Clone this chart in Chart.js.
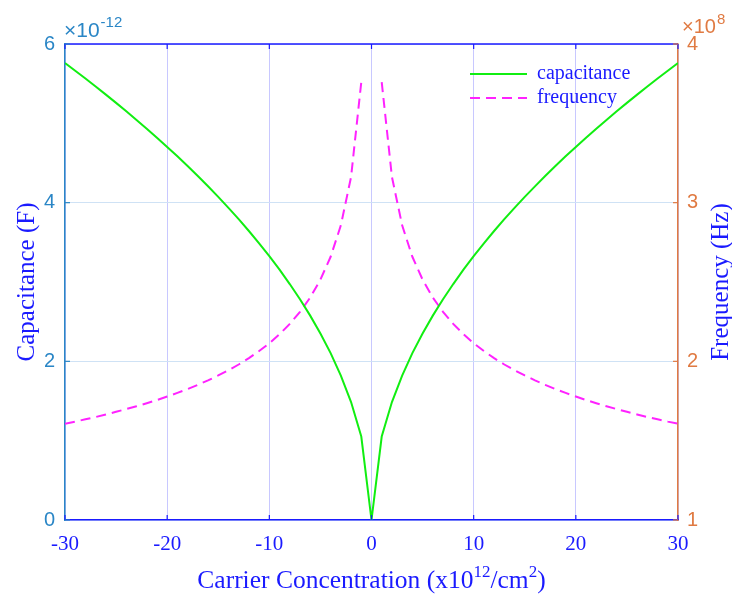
<!DOCTYPE html>
<html>
<head>
<meta charset="utf-8">
<script src="https://cdn.jsdelivr.net/npm/chart.js@4"></script>
<style>
  html, body { margin: 0; padding: 0; background: #ffffff; }
  #wrap { width: 732px; height: 595px; }
</style>
</head>
<body>
<div id="wrap"><canvas id="c" width="732" height="595"></canvas></div>
<script>
// ---- data ----
const concentration = [-30,-29,-28,-27,-26,-25,-24,-23,-22,-21,-20,-19,-18,-17,-16,-15,-14,-13,-12,-11,-10,-9,-8,-7,-6,-5,-4,-3,-2,-1,0,
  1,2,3,4,5,6,7,8,9,10,11,12,13,14,15,16,17,18,19,20,21,22,23,24,25,26,27,28,29,30];
// capacitance in units of 1e-12 F
const capacitance = [5.760,5.663,5.565,5.464,5.362,5.258,5.152,5.043,4.932,4.819,4.703,4.584,4.462,4.336,4.206,4.073,3.935,3.792,3.643,3.488,3.325,3.155,2.974,2.782,2.576,2.351,2.103,1.821,1.487,1.052,0,
  1.052,1.487,1.821,2.103,2.351,2.576,2.782,2.974,3.155,3.325,3.488,3.643,3.792,3.935,4.073,4.206,4.336,4.462,4.584,4.703,4.819,4.932,5.043,5.152,5.258,5.362,5.464,5.565,5.663,5.760];
// frequency in units of 1e8 Hz (no value at zero)
const frequency = [1.607,1.620,1.635,1.649,1.665,1.682,1.699,1.717,1.736,1.756,1.778,1.801,1.825,1.852,1.880,1.911,1.944,1.980,2.020,2.065,2.114,2.171,2.236,2.312,2.402,2.515,2.659,2.857,3.162,3.760,null,
  3.760,3.162,2.857,2.659,2.515,2.402,2.312,2.236,2.171,2.114,2.065,2.020,1.980,1.944,1.911,1.880,1.852,1.825,1.801,1.778,1.756,1.736,1.717,1.699,1.682,1.665,1.649,1.635,1.620,1.607];
const seriesNames = ['capacitance', 'frequency'];
const xTicks = [-30, -20, -10, 0, 10, 20, 30];
const leftTicks = [0, 2, 4, 6];
const rightTicks = [1, 2, 3, 4];

const BLUE = '#1a1aff';
const LEFTC = '#2a86c6';
const RIGHTC = '#e07a42';
const SERIF = '"Liberation Serif", "Times New Roman", serif';
const SANS = '"Liberation Sans", Arial, sans-serif';

const toPts = ys => concentration.map((x, i) => ({ x: x, y: ys[i] }));

const extras = {
  id: 'extras',
  afterDraw(chart) {
    const ctx = chart.ctx;
    const a = chart.chartArea;
    const sx = chart.scales.x, sy = chart.scales.y, sr = chart.scales.y1;
    ctx.save();
    // top border
    ctx.strokeStyle = BLUE; ctx.lineWidth = 1.5;
    ctx.beginPath(); ctx.moveTo(a.left, a.top); ctx.lineTo(a.right, a.top); ctx.stroke();
    // inward ticks
    ctx.lineWidth = 1.2;
    xTicks.forEach(v => {
      const px = sx.getPixelForValue(v);
      ctx.strokeStyle = BLUE;
      ctx.beginPath(); ctx.moveTo(px, a.bottom); ctx.lineTo(px, a.bottom - 5); ctx.stroke();
      ctx.beginPath(); ctx.moveTo(px, a.top); ctx.lineTo(px, a.top + 5); ctx.stroke();
    });
    leftTicks.forEach(v => {
      const py = sy.getPixelForValue(v);
      ctx.strokeStyle = LEFTC;
      ctx.beginPath(); ctx.moveTo(a.left, py); ctx.lineTo(a.left + 5, py); ctx.stroke();
    });
    rightTicks.forEach(v => {
      const py = sr.getPixelForValue(v);
      ctx.strokeStyle = RIGHTC;
      ctx.beginPath(); ctx.moveTo(a.right, py); ctx.lineTo(a.right - 5, py); ctx.stroke();
    });
    // exponent labels
    ctx.textBaseline = 'alphabetic';
    ctx.textAlign = 'left';
    ctx.fillStyle = LEFTC;
    ctx.font = '21px ' + SANS;
    ctx.fillText('\u00d710', 64, 37);
    let w = ctx.measureText('\u00d710').width;
    ctx.font = '15px ' + SANS;
    ctx.fillText('-12', 64 + w + 1, 27);
    ctx.fillStyle = RIGHTC;
    ctx.font = '20px ' + SANS;
    ctx.fillText('\u00d710', 682, 33);
    w = ctx.measureText('\u00d710').width;
    ctx.font = '15px ' + SANS;
    ctx.fillText('8', 682 + w + 1, 24);
    // axis titles
    ctx.fillStyle = BLUE;
    ctx.font = '25px ' + SERIF;
    ctx.textAlign = 'center';
    ctx.textBaseline = 'middle';
    ctx.save(); ctx.translate(27, (a.top + a.bottom) / 2); ctx.rotate(-Math.PI / 2);
    ctx.fillText('Capacitance (F)', 0, 0); ctx.restore();
    ctx.save(); ctx.translate(721, (a.top + a.bottom) / 2); ctx.rotate(-Math.PI / 2);
    ctx.fillText('Frequency (Hz)', 0, 0); ctx.restore();
    // x title with superscripts
    const parts = [['Carrier Concentration (x10', 25.5, 0], ['12', 17, -11], ['/cm', 25.5, 0], ['2', 17, -11], [')', 25.5, 0]];
    let total = 0;
    parts.forEach(p => { ctx.font = p[1] + 'px ' + SERIF; total += ctx.measureText(p[0]).width; });
    let cx = (a.left + a.right) / 2 - total / 2;
    ctx.textAlign = 'left'; ctx.textBaseline = 'alphabetic';
    parts.forEach(p => {
      ctx.font = p[1] + 'px ' + SERIF;
      ctx.fillText(p[0], cx, 588 + p[2]);
      cx += ctx.measureText(p[0]).width;
    });
    // legend
    const ds = chart.data.datasets;
    const rows = [74, 98];
    ds.forEach((d, i) => {
      ctx.strokeStyle = d.borderColor; ctx.lineWidth = 2;
      ctx.setLineDash(d.borderDash || []);
      ctx.beginPath(); ctx.moveTo(470, rows[i]); ctx.lineTo(527, rows[i]); ctx.stroke();
      ctx.setLineDash([]);
      ctx.fillStyle = BLUE; ctx.font = '20px ' + SERIF;
      ctx.textBaseline = 'middle';
      ctx.fillText(d.label, 537, rows[i]);
    });
    ctx.restore();
  }
};

new Chart(document.getElementById('c'), {
  type: 'line',
  data: {
    datasets: [
      { label: seriesNames[0], data: toPts(capacitance), yAxisID: 'y', borderColor: '#11ee11', borderWidth: 2, pointRadius: 0, tension: 0, fill: false },
      { label: seriesNames[1], data: toPts(frequency), yAxisID: 'y1', borderColor: '#ff22ff', borderWidth: 2, borderDash: [10, 6], pointRadius: 0, tension: 0, fill: false, spanGaps: false }
    ]
  },
  options: {
    responsive: false,
    animation: false,
    layout: { padding: { top: 44, left: 0, right: 0, bottom: 0 } },
    plugins: { legend: { display: false }, tooltip: { enabled: false } },
    scales: {
      x: {
        type: 'linear', min: -30, max: 30,
        afterBuildTicks: s => { s.ticks = xTicks.map(v => ({ value: v })); },
        afterFit: s => { s.height = 75; },
        ticks: { color: BLUE, font: { family: SERIF, size: 21 }, padding: 12, maxRotation: 0, autoSkip: false },
        grid: { color: '#c8c8ff', lineWidth: 1, drawTicks: false },
        border: { color: BLUE, width: 1.5 }
      },
      y: {
        position: 'left', min: 0, max: 6,
        afterBuildTicks: s => { s.ticks = leftTicks.map(v => ({ value: v })); },
        afterFit: s => { s.width = 65; },
        ticks: { color: LEFTC, font: { family: SANS, size: 20 }, padding: 10 },
        grid: { color: '#cfe2f5', lineWidth: 1, drawTicks: false },
        border: { color: LEFTC, width: 1.5 }
      },
      y1: {
        position: 'right', min: 1, max: 4,
        afterBuildTicks: s => { s.ticks = rightTicks.map(v => ({ value: v })); },
        afterFit: s => { s.width = 54; },
        ticks: { color: RIGHTC, font: { family: SANS, size: 20 }, padding: 9 },
        grid: { drawOnChartArea: false, drawTicks: false },
        border: { color: RIGHTC, width: 1.5 }
      }
    }
  },
  plugins: [extras]
});
</script>
</body>
</html>
